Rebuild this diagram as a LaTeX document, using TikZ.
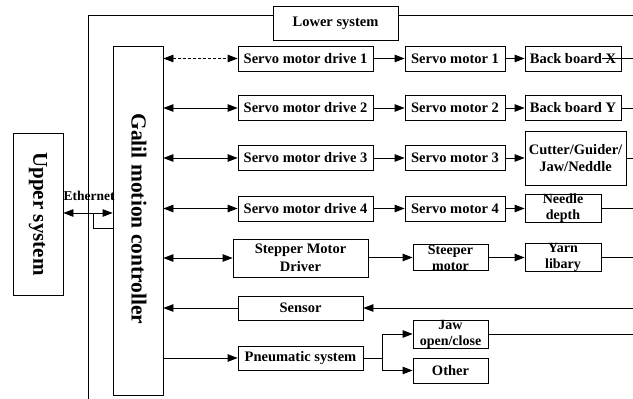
\documentclass[tikz,border=0pt]{standalone}
\usepackage{fontspec}
\setmainfont{Liberation Serif}
\usetikzlibrary{arrows.meta}
\begin{document}
\begin{tikzpicture}[x=1pt,y=-1pt,
  box/.style={draw, line width=0.8pt, inner sep=0pt, align=center, font=\bfseries\fontsize{14.5}{14.5}\selectfont},
  two/.style={font=\bfseries\fontsize{14}{16}\selectfont},
  conn/.style={line width=0.8pt, -{Triangle[length=10pt,width=7.5pt]}},
  dconn/.style={line width=0.8pt, {Triangle[length=10pt,width=7.5pt]}-{Triangle[length=10pt,width=7.5pt]}},
  plain/.style={line width=0.8pt}]
\useasboundingbox (0,0) rectangle (633,399);
% big boxes
\node[box, minimum width=50pt, minimum height=162pt] (upper) at (38,214) {};
\node[rotate=-90, font=\bfseries\fontsize{21}{21}\selectfont] at (upper.center) {Upper system};
\node[box, minimum width=50pt, minimum height=349pt] (galil) at (138,220.5) {};
\node[rotate=-90, font=\bfseries\fontsize{21.5}{21.5}\selectfont] at (139,219) {Galil motion controller};
\node[box, minimum width=125pt, minimum height=34pt] (lower) at (335.5,23) {Lower system};
% outer line of lower system
\coordinate (lbot) at (88,399);
\coordinate (lcorner) at (88,15);
\coordinate (lright) at (633,15);
\draw[plain] (lbot) -- (lcorner) -- (lower.west |- lcorner);
\draw[plain] (lower.east |- lcorner) -- (lright);
% ethernet
\node[font=\bfseries\fontsize{13.5}{13.5}\selectfont, inner sep=0pt] (eth) at (89,196) {Ethernet};
\draw[dconn] (upper.east |- 0,213) -- (galil.west |- 0,213);
\coordinate (e1) at (93,213);
\coordinate (e2) at (93,228);
\draw[plain] (e1) -- (e2) -- (galil.west |- e2);
% row 1
\node[box, minimum width=135pt, minimum height=25pt] (d1) at (305.5,58.5) {Servo motor drive 1};
\node[box, minimum width=100pt, minimum height=25pt] (m1) at (455,58.5) {Servo motor 1};
\node[box, minimum width=96pt, minimum height=25pt] (b1) at (573,58.5) {Back board X};
\draw[dconn, densely dashed] (galil.east |- d1) -- (d1.west);
\draw[conn] (d1) -- (m1);
\draw[conn] (m1) -- (b1);
\coordinate (x1) at (602,58.5);
\coordinate (r1) at (633,58.5);
\draw[plain] (x1) -- (r1);
% row 2
\node[box, minimum width=135pt, minimum height=25pt] (d2) at (305.5,108) {Servo motor drive 2};
\node[box, minimum width=100pt, minimum height=25pt] (m2) at (455,108) {Servo motor 2};
\node[box, minimum width=96pt, minimum height=25pt] (b2) at (573,108) {Back board Y};
\draw[dconn] (galil.east |- d2) -- (d2.west);
\draw[conn] (d2) -- (m2);
\draw[conn] (m2) -- (b2);
\coordinate (r2) at (633,108);
\draw[plain] (b2.east) -- (r2);
% row 3
\node[box, two, font=\bfseries\fontsize{14.5}{17}\selectfont, minimum width=101pt, minimum height=54pt] (b3) at (575.5,158) {Cutter/Guider/\\Jaw/Neddle};
\node[box, minimum width=135pt, minimum height=25pt] (d3) at (305.5,158) {Servo motor drive 3};
\node[box, minimum width=100pt, minimum height=25pt] (m3) at (455,158) {Servo motor 3};
\draw[dconn] (galil.east |- d3) -- (d3.west);
\draw[conn] (d3) -- (m3);
\draw[conn] (m3) -- (b3);
\coordinate (r3) at (633,158);
\draw[plain] (b3.east) -- (r3);
% row 4
\node[box, minimum width=135pt, minimum height=25pt] (d4) at (305.5,208.5) {Servo motor drive 4};
\node[box, minimum width=100pt, minimum height=25pt] (m4) at (455,208.5) {Servo motor 4};
\node[box, two, minimum width=76pt, minimum height=25pt] (b4) at (563,208.5) {Needle\\depth};
\draw[dconn] (galil.east |- d4) -- (d4.west);
\draw[conn] (d4) -- (m4);
\draw[conn] (m4) -- (b4);
\coordinate (r4) at (633,208.5);
\draw[plain] (b4.east) -- (r4);
% row 5
\node[box, font=\bfseries\fontsize{14.5}{18}\selectfont, minimum width=135pt, minimum height=38pt] (d5) at (300.5,258) {Stepper Motor\\Driver};
\node[box, two, minimum width=75pt, minimum height=25pt] (m5) at (450.5,257.5) {Steeper\\motor};
\node[box, two, minimum width=76pt, minimum height=25pt] (b5) at (563,257.5) {Yarn\\libary};
\draw[dconn] (galil.east |- d5) -- (d5.west);
\draw[conn] (d5.east |- m5) -- (m5);
\draw[conn] (m5) -- (b5);
\coordinate (r5) at (633,257.5);
\draw[plain] (b5.east) -- (r5);
% row 6
\node[box, minimum width=125pt, minimum height=24pt] (s6) at (300.5,308) {Sensor};
\coordinate (r6) at (633,308);
\draw[conn] (r6) -- (s6.east);
\draw[conn] (s6.west) -- (galil.east |- s6);
% row 7
\node[box, minimum width=125pt, minimum height=24pt] (p7) at (300.5,358) {Pneumatic system};
\node[box, two, minimum width=75pt, minimum height=28pt] (jaw) at (450.5,334) {Jaw\\open/close};
\node[box, minimum width=75pt, minimum height=25pt] (oth) at (450.5,370.5) {Other};
\draw[conn] (galil.east |- p7) -- (p7.west);
\coordinate (br) at (382,358);
\draw[plain] (p7.east) -- (br);
\draw[conn] (br) |- (jaw.west);
\draw[conn] (br) |- (oth.west);
\coordinate (r7) at (633,334);
\draw[plain] (jaw.east) -- (r7);
\end{tikzpicture}
\end{document}
